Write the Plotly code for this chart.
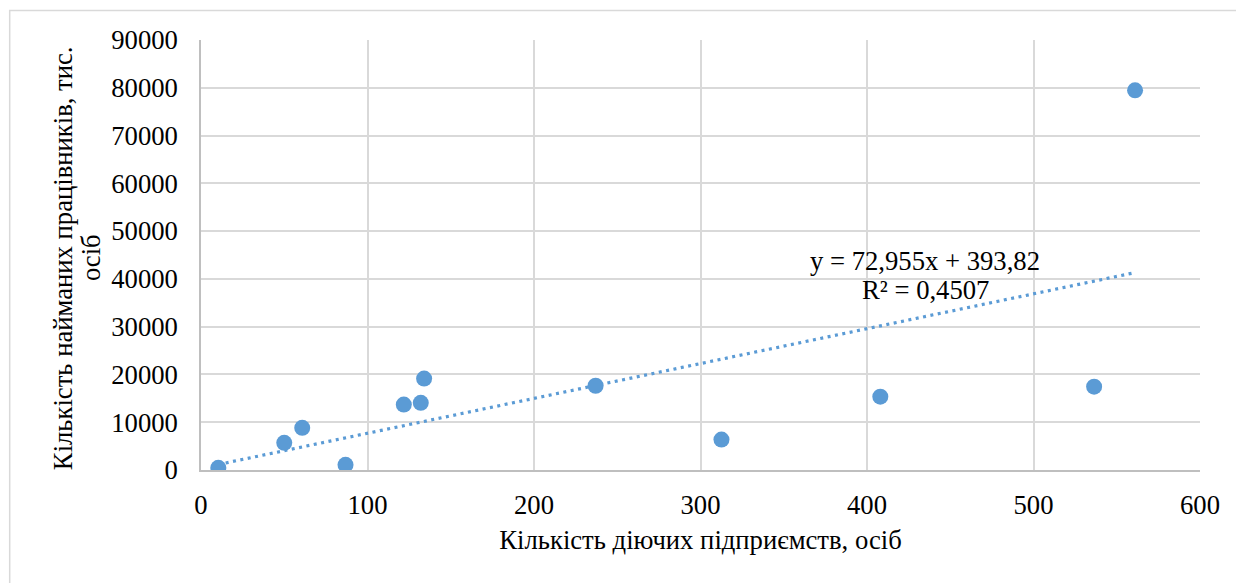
import plotly.graph_objects as go

# Data
enterprises = [10.4, 50.0, 60.8, 86.8, 121.8, 132.0, 134.0, 237.0, 312.6, 408.0, 536.4, 561.0]
employees = [450, 5690, 8820, 1090, 13690, 14050, 19130, 17640, 6370, 15350, 17440, 79460]

# Trendline coefficients (as printed on the chart)
slope = 72.955
intercept = 393.82
r_squared_label = "0,4507"
equation_label = "y = 72,955x + 393,82"

x_ticks = [0, 100, 200, 300, 400, 500, 600]
y_ticks = [0, 10000, 20000, 30000, 40000, 50000, 60000, 70000, 80000, 90000]

x_title = "Кількість діючих підприємств, осіб"
y_title_lines = ["Кількість найманих працівників, тис.", "осіб"]

BLUE = "#5B9BD5"
FONT = "Times New Roman, Liberation Serif, DejaVu Serif, serif"
FS = 26.67

x_min, x_max = min(enterprises), max(enterprises)
trend_x = [x_min, x_max]
trend_y = [slope * v + intercept for v in trend_x]

fig = go.Figure()
fig.add_trace(go.Scatter(
    x=trend_x, y=trend_y, mode="lines",
    line=dict(color=BLUE, width=3.2, dash="3px,4.5px"),
    hoverinfo="skip", showlegend=False,
))
fig.add_trace(go.Scatter(
    x=enterprises, y=employees, mode="markers",
    marker=dict(color=BLUE, size=16, line=dict(width=0)),
    showlegend=False,
))

for yv, txt in zip([43700, 37700], [equation_label, "R² = " + r_squared_label]):
    fig.add_annotation(
        x=435, y=yv, xref="x", yref="y", text=txt,
        showarrow=False, xanchor="center", yanchor="middle",
        font=dict(family=FONT, size=FS, color="#000000"),
    )

for xp, line in zip([-0.138, -0.110], y_title_lines):
    fig.add_annotation(
        x=xp, y=0.493, xref="paper", yref="paper",
        text=line, textangle=-90, showarrow=False,
        xanchor="center", yanchor="middle",
        font=dict(family=FONT, size=FS, color="#000000"),
    )

# Chart frame (top and left edges visible)
fig.add_shape(
    type="path", xref="paper", yref="paper",
    path="M 1.06 1.0685 L -0.1915 1.0685 L -0.1915 -0.3",
    line=dict(color="#D9D9D9", width=1.5),
)

fig.update_layout(
    width=1236, height=575,
    margin=dict(l=193, r=44, t=32, b=113),
    paper_bgcolor="white", plot_bgcolor="white",
    font=dict(family=FONT, size=FS, color="#000000"),
    xaxis=dict(
        range=[0, 600], tickvals=x_ticks, ticktext=[str(v) for v in x_ticks],
        showgrid=True, gridcolor="#D9D9D9", gridwidth=1.5,
        showline=True, linecolor="#BFBFBF", linewidth=1.5,
        zeroline=False, ticks="outside", ticklen=10, tickcolor="rgba(0,0,0,0)",
        tickfont=dict(family=FONT, size=FS),
        title=dict(text=x_title, font=dict(family=FONT, size=FS), standoff=12),
    ),
    yaxis=dict(
        range=[0, 90000], tickvals=y_ticks, ticktext=[str(v) for v in y_ticks],
        showgrid=True, gridcolor="#D9D9D9", gridwidth=1.5,
        showline=True, linecolor="#BFBFBF", linewidth=1.5,
        zeroline=False, ticks="outside", ticklen=16, tickcolor="rgba(0,0,0,0)",
        tickfont=dict(family=FONT, size=FS),
    ),
    showlegend=False,
)

fig.write_html("out.html")
